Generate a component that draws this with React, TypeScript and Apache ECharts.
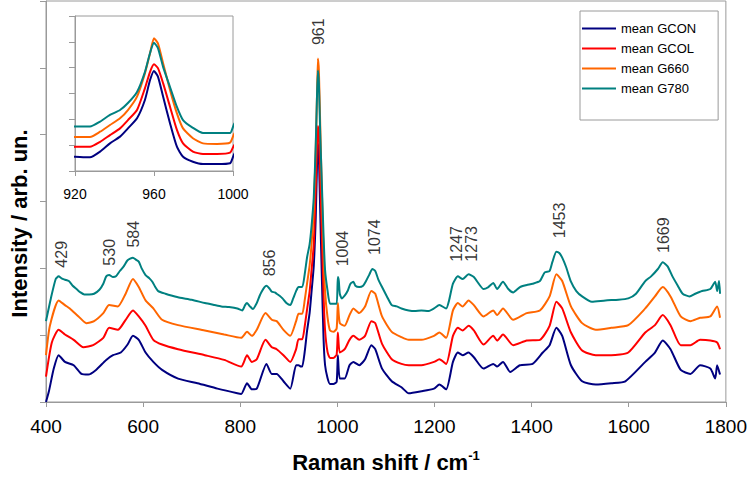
import React, { useEffect, useRef } from "react";
import * as echarts from "echarts";

const seriesNames = ["mean GCON", "mean GCOL", "mean G660", "mean G780"];
const seriesColors = ["#000080", "#FF0000", "#FF6600", "#008080"];

const gcon = [[400,0.00],[406,0.16],[416,0.50],[426,0.70],[439,0.60],[457,0.55],[473,0.42],[487,0.41],[503,0.48],[524,0.63],[538,0.70],[554,0.74],[568,0.86],[579,0.99],[591,0.93],[605,0.74],[621,0.60],[639,0.48],[672,0.35],[712,0.28],[753,0.20],[794,0.13],[802,0.12],[814,0.28],[824,0.19],[834,0.20],[854,0.57],[865,0.42],[875,0.42],[889,0.31],[903,0.20],[915,0.55],[920,0.55],[925,0.53],[927.6,0.53],[932.7,0.75],[937.7,1.07],[942.8,1.33],[946.8,1.65],[951.4,2.04],[955.4,2.75],[958,3.52],[960,3.87],[962,3.65],[964.6,2.88],[968.1,1.85],[971.6,0.94],[974.7,0.55],[979.7,0.36],[984.8,0.27],[991.9,0.27],[998.5,0.30],[1001,0.70],[1005,0.35],[1015,0.35],[1025,0.55],[1033,0.60],[1045,0.55],[1057,0.64],[1070,0.85],[1078,0.79],[1092,0.50],[1112,0.31],[1132,0.22],[1147,0.13],[1173,0.16],[1199,0.20],[1210,0.26],[1224,0.19],[1238,0.60],[1248,0.74],[1258,0.70],[1270,0.74],[1281,0.67],[1301,0.50],[1321,0.57],[1329,0.53],[1341,0.60],[1356,0.45],[1376,0.55],[1402,0.57],[1423,0.74],[1437,0.85],[1451,1.11],[1463,0.99],[1481,0.55],[1504,0.31],[1532,0.26],[1564,0.28],[1593,0.31],[1634,0.60],[1654,0.74],[1670,0.92],[1686,0.79],[1707,0.48],[1727,0.42],[1747,0.55],[1768,0.50],[1778,0.35],[1782,0.55],[1788,0.41]];

const gcol = [[400,0.38],[412,0.89],[426,1.08],[439,1.01],[457,0.93],[477,0.82],[497,0.85],[518,0.96],[530,1.11],[548,1.08],[564,1.23],[579,1.37],[591,1.28],[605,1.14],[621,0.93],[639,0.86],[672,0.79],[727,0.70],[767,0.63],[802,0.53],[814,0.70],[824,0.60],[834,0.64],[852,0.93],[865,0.82],[875,0.79],[889,0.70],[903,0.60],[915,0.79],[920,0.94],[927.6,0.94],[932.7,1.13],[937.7,1.39],[942.8,1.65],[946.8,1.97],[951.4,2.36],[955.4,3.20],[958,3.84],[960,4.13],[962,3.98],[964.6,3.40],[968.1,2.49],[971.6,1.59],[974.7,1.07],[979.7,0.75],[984.8,0.66],[991.9,0.66],[998.5,0.71],[1001,1.04],[1005,0.74],[1015,0.79],[1025,0.93],[1033,0.99],[1045,0.93],[1057,0.99],[1070,1.21],[1078,1.18],[1092,0.87],[1112,0.64],[1132,0.57],[1147,0.55],[1173,0.55],[1199,0.60],[1210,0.64],[1224,0.57],[1238,0.99],[1248,1.11],[1258,1.07],[1270,1.14],[1281,1.07],[1301,0.86],[1321,0.99],[1329,0.92],[1341,1.01],[1362,0.85],[1390,0.92],[1417,0.93],[1437,1.14],[1451,1.50],[1463,1.40],[1481,1.04],[1504,0.77],[1532,0.70],[1564,0.70],[1599,0.74],[1634,1.04],[1654,1.15],[1670,1.30],[1686,1.15],[1707,0.85],[1727,0.85],[1747,0.93],[1768,0.92],[1782,0.89],[1788,0.79]];

const g660 = [[400,0.70],[408,1.14],[426,1.52],[439,1.45],[449,1.40],[467,1.28],[483,1.18],[499,1.21],[518,1.33],[530,1.45],[548,1.43],[564,1.62],[579,1.84],[591,1.72],[605,1.52],[621,1.40],[639,1.23],[672,1.15],[727,1.07],[767,1.01],[802,0.96],[814,1.05],[824,0.99],[834,1.08],[852,1.33],[865,1.23],[875,1.21],[889,1.08],[903,0.99],[915,1.21],[920,1.32],[927.6,1.32],[932.7,1.52],[937.7,1.78],[942.8,2.04],[946.8,2.36],[951.4,2.88],[955.4,3.78],[958,4.56],[960,5.14],[962,4.94],[964.6,4.17],[968.1,3.14],[971.6,2.23],[974.7,1.65],[979.7,1.27],[984.8,1.07],[991.9,1.05],[998.5,1.10],[1001,1.48],[1005,1.18],[1015,1.14],[1025,1.30],[1033,1.40],[1045,1.33],[1057,1.43],[1070,1.66],[1078,1.62],[1092,1.28],[1112,1.05],[1132,0.97],[1147,0.93],[1173,0.93],[1199,0.99],[1210,1.04],[1224,0.96],[1238,1.37],[1248,1.48],[1258,1.43],[1270,1.52],[1281,1.45],[1301,1.28],[1321,1.37],[1329,1.30],[1341,1.40],[1362,1.23],[1390,1.33],[1417,1.37],[1437,1.58],[1451,1.91],[1463,1.81],[1481,1.43],[1504,1.18],[1532,1.08],[1564,1.11],[1599,1.15],[1634,1.40],[1654,1.58],[1670,1.72],[1686,1.58],[1707,1.28],[1727,1.21],[1747,1.26],[1768,1.28],[1782,1.43],[1788,1.26]];

const g780 = [[400,1.21],[410,1.55],[420,1.84],[426,1.88],[432,1.85],[439,1.83],[447,1.81],[455,1.74],[463,1.69],[471,1.64],[479,1.61],[489,1.61],[499,1.62],[510,1.68],[518,1.77],[524,1.88],[530,1.90],[538,1.87],[544,1.88],[552,1.96],[560,2.03],[568,2.12],[579,2.16],[585,2.13],[591,2.10],[597,2.00],[605,1.90],[613,1.85],[619,1.80],[625,1.72],[631,1.66],[646,1.62],[660,1.59],[676,1.56],[700,1.53],[727,1.48],[747,1.45],[761,1.43],[777,1.42],[794,1.40],[804,1.37],[810,1.45],[814,1.48],[820,1.43],[826,1.39],[834,1.48],[840,1.59],[844,1.65],[850,1.72],[854,1.74],[861,1.69],[865,1.65],[871,1.64],[875,1.62],[881,1.59],[887,1.55],[895,1.48],[903,1.45],[909,1.55],[915,1.66],[920,1.72],[927.6,1.72],[932.7,1.91],[937.7,2.17],[942.8,2.36],[946.8,2.63],[951.4,3.06],[955.4,3.83],[958,4.57],[960,4.96],[962,4.76],[964.6,4.03],[968.1,3.25],[971.6,2.48],[974.7,1.97],[979.7,1.67],[984.8,1.47],[991.9,1.47],[998.5,1.47],[1001,1.87],[1003,1.81],[1005,1.62],[1009,1.55],[1015,1.59],[1021,1.66],[1027,1.77],[1033,1.80],[1037,1.74],[1045,1.72],[1053,1.74],[1059,1.81],[1066,1.91],[1072,1.99],[1078,1.96],[1084,1.84],[1092,1.72],[1102,1.58],[1112,1.45],[1122,1.43],[1132,1.40],[1147,1.37],[1159,1.36],[1173,1.37],[1187,1.36],[1199,1.40],[1210,1.45],[1224,1.40],[1230,1.52],[1238,1.77],[1248,1.88],[1258,1.84],[1270,1.91],[1281,1.87],[1291,1.77],[1301,1.69],[1311,1.72],[1321,1.78],[1329,1.69],[1341,1.80],[1352,1.69],[1362,1.64],[1376,1.72],[1390,1.75],[1402,1.77],[1417,1.81],[1427,1.94],[1437,1.96],[1443,2.10],[1451,2.25],[1457,2.23],[1463,2.16],[1471,2.02],[1481,1.80],[1492,1.66],[1504,1.58],[1524,1.50],[1552,1.52],[1579,1.53],[1599,1.55],[1615,1.62],[1634,1.81],[1646,1.88],[1660,1.99],[1670,2.09],[1680,2.03],[1690,1.88],[1701,1.74],[1711,1.62],[1725,1.58],[1737,1.62],[1751,1.66],[1768,1.69],[1778,1.80],[1782,1.66],[1786,1.81],[1788,1.62]];

const peakNames = ["429", "530", "584", "856", "961", "1004", "1074", "1247", "1273", "1453", "1669"];
const peakPos = [432, 530, 581, 860, 962, 1010, 1077, 1246, 1276, 1457, 1672];
const peakLabelLevel = [2.01, 2.04, 2.31, 1.88, 5.34, 2.03, 2.20, 2.10, 2.10, 2.45, 2.23];

const mainTicks = { min: 400, max: 1800, interval: 200 };
const insetTicks = { min: 920, max: 1000, interval: 40 };

const FONT = "Liberation Sans, Arial, sans-serif";
const AXIS_GREY = "#9a9a9a";

export default function App() {
  const ref = useRef<HTMLDivElement>(null);
  useEffect(() => {
    if (!ref.current) return;
    const chart = echarts.init(ref.current, undefined, { renderer: "svg" });
    const allData = [gcon, gcol, g660, g780];

    const lineSeries: any[] = [];
    [0, 1].forEach((g) => {
      allData.forEach((d, i) => {
        lineSeries.push({
          type: "line",
          name: seriesNames[i],
          data: d,
          xAxisIndex: g,
          yAxisIndex: g,
          symbol: "none",
          smooth: 0.2,
          lineStyle: { width: 2, color: seriesColors[i] },
          itemStyle: { color: seriesColors[i] },
          clip: true,
          z: 2 + i,
        });
      });
    });

    const peakSeries = {
      type: "scatter",
      xAxisIndex: 0,
      yAxisIndex: 0,
      symbolSize: 0,
      silent: true,
      z: 10,
      data: peakPos.map((p, i) => ({ value: [p, peakLabelLevel[i]], name: peakNames[i] })),
      label: {
        show: true,
        position: [0, 0],
        rotate: 90,
        align: "left",
        verticalAlign: "middle",
        formatter: (p: any) => p.name,
        fontSize: 16,
        fontFamily: FONT,
        color: "#000",
      },
    };

    const plain = (v: number) => String(v);

    chart.setOption({
      animation: false,
      backgroundColor: "#fff",
      textStyle: { fontFamily: FONT },
      grid: [
        { left: 39, top: 1, width: 690, height: 410, show: true, borderColor: AXIS_GREY, borderWidth: 1, backgroundColor: "transparent" },
        { left: 75, top: 16, width: 158, height: 155, show: true, borderColor: AXIS_GREY, borderWidth: 1, backgroundColor: "#fff" },
      ],
      xAxis: [
        {
          type: "value",
          gridIndex: 0,
          ...mainTicks,
          axisLine: { show: true, lineStyle: { color: AXIS_GREY } },
          axisTick: { show: true, length: 5, lineStyle: { color: AXIS_GREY } },
          splitLine: { show: false },
          axisLabel: { fontSize: 19, color: "#000", margin: 15, fontFamily: FONT, formatter: plain },
          name: "{a|Raman shift / cm}{b|-1}",
          nameLocation: "middle",
          nameGap: 47,
          nameTextStyle: {
            rich: {
              a: { fontSize: 22, fontWeight: "bold", color: "#000", fontFamily: FONT, lineHeight: 26 },
              b: { fontSize: 13, fontWeight: "bold", color: "#000", fontFamily: FONT, verticalAlign: "top", lineHeight: 14 },
            },
          },
        },
        {
          type: "value",
          gridIndex: 1,
          ...insetTicks,
          axisLine: { show: true, lineStyle: { color: AXIS_GREY } },
          axisTick: { show: true, length: 5, lineStyle: { color: AXIS_GREY } },
          splitLine: { show: false },
          axisLabel: { fontSize: 14, color: "#000", margin: 16, fontFamily: FONT, formatter: plain },
        },
      ],
      yAxis: [
        {
          type: "value",
          gridIndex: 0,
          min: 0,
          max: 6,
          interval: 1,
          axisLine: { show: true, lineStyle: { color: AXIS_GREY } },
          axisTick: { show: true, length: 6, lineStyle: { color: AXIS_GREY } },
          splitLine: { show: false },
          axisLabel: { show: false },
          name: "Intensity / arb. un.",
          nameLocation: "middle",
          nameRotate: 90,
          nameGap: 16,
          nameTextStyle: { fontSize: 22, fontWeight: "bold", color: "#000", fontFamily: FONT, padding: [0, 44, 0, 0] },
        },
        {
          type: "value",
          gridIndex: 1,
          min: 0,
          max: 6,
          interval: 1,
          axisLine: { show: true, lineStyle: { color: AXIS_GREY } },
          axisTick: { show: true, length: 6, lineStyle: { color: AXIS_GREY } },
          splitLine: { show: false },
          axisLabel: { show: false },
        },
      ],
      legend: {
        data: seriesNames,
        orient: "vertical",
        left: 580,
        top: 11,
        icon: "rect",
        itemGap: 7,
        itemWidth: 34,
        itemHeight: 2,
        padding: [11, 22, 25, 2],
        borderColor: AXIS_GREY,
        borderWidth: 1,
        backgroundColor: "#fff",
        textStyle: { fontSize: 13, color: "#000", fontFamily: FONT },
      },
      series: [...lineSeries, peakSeries],
    });
    return () => chart.dispose();
  }, []);
  return <div ref={ref} style={{ position: "absolute", left: 0, top: 0, width: 750, height: 478 }} />;
}
